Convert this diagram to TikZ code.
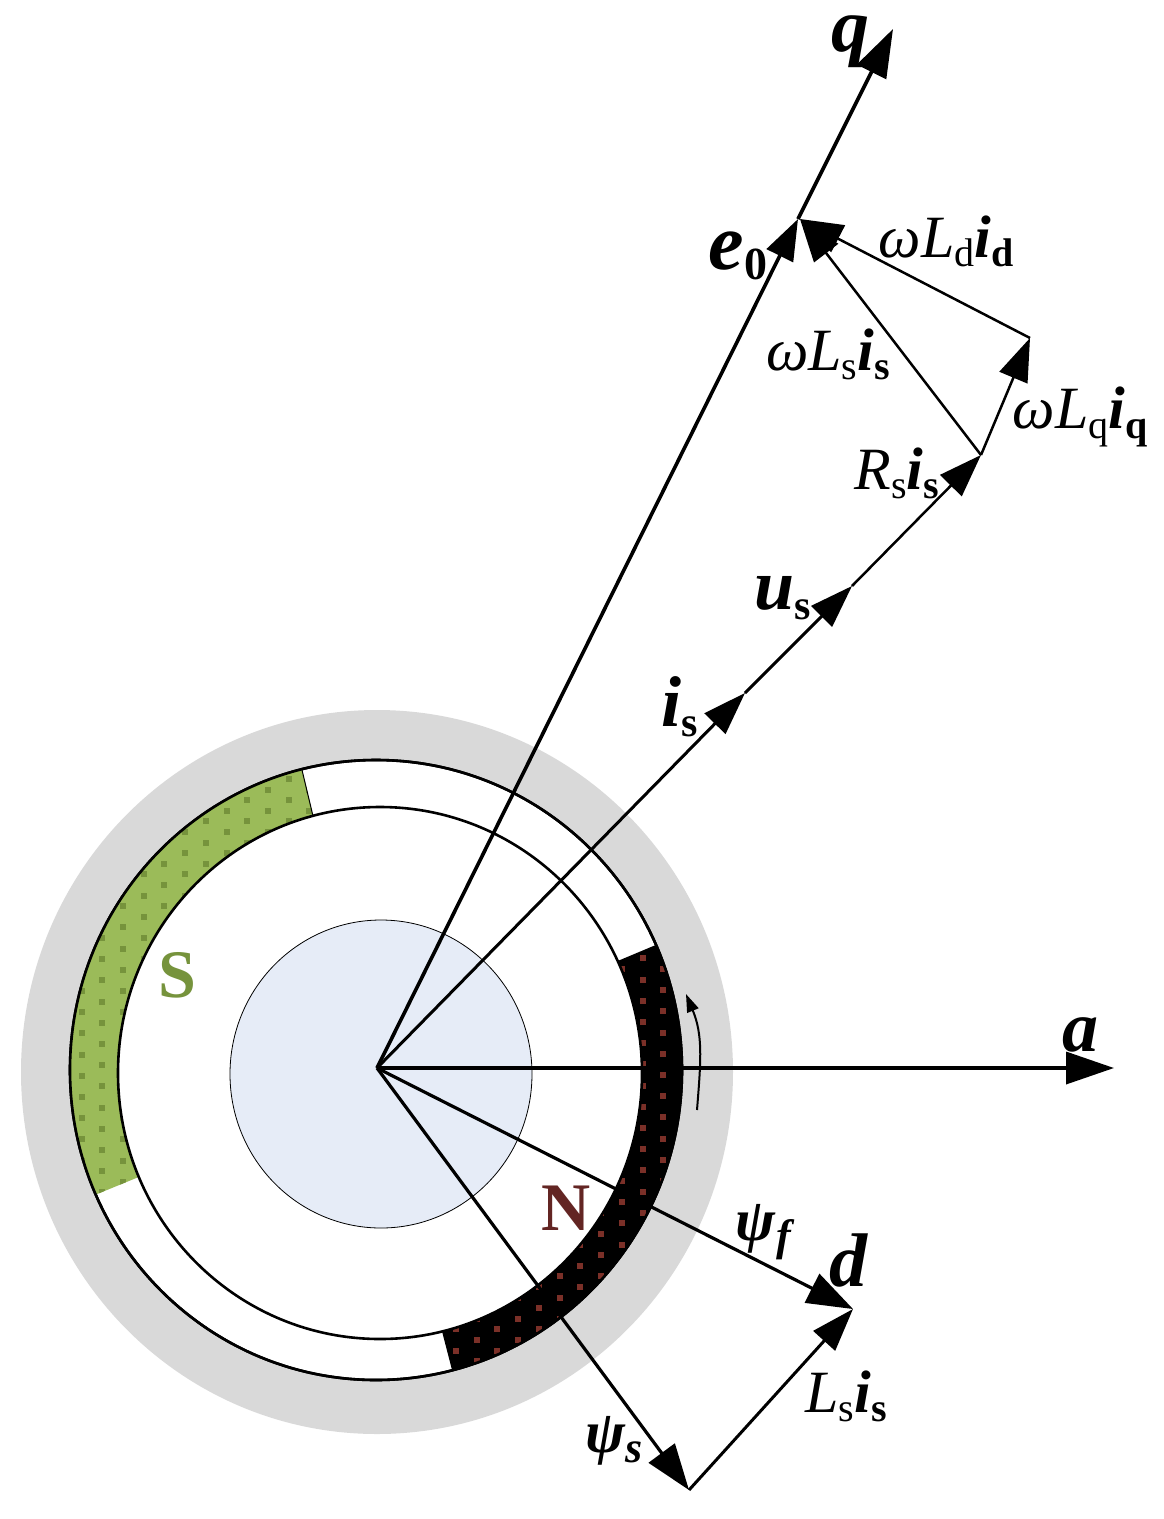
\documentclass[tikz,border=0pt]{standalone}
\usepackage{fontspec}
\setmainfont{Liberation Serif}
\usetikzlibrary{arrows.meta}
\definecolor{statorgray}{HTML}{D9D9D9}
\definecolor{shaftblue}{HTML}{E6ECF7}
\definecolor{sgreen}{HTML}{9BBB59}
\definecolor{sdot}{HTML}{76933C}
\definecolor{ndot}{HTML}{7B3028}
\definecolor{nred}{HTML}{632523}
\newcommand{\fsz}[1]{\fontsize{#1}{#1}\selectfont}
\newcommand{\bi}[1]{\textbf{\textit{#1}}}
\newcommand{\lowsub}[2]{{\fsz{#1}\raisebox{-0.23em}{#2}}}
\newcommand{\magnetpath}[4]{plot[domain=#1:#2,samples=90] ({376+306*cos(\x)},{1070-310*sin(\x)}) -- plot[domain=#4:#3,samples=90] ({380+262*cos(\x)},{1073-266*sin(\x)}) -- cycle}
\tikzset{
  vecbig/.style={line width=3.6pt,-{Triangle[length=48pt,width=32pt]}},
  vecmid/.style={line width=3.2pt,-{Triangle[length=46pt,width=32pt]}},
  vecsmall/.style={line width=3pt,-{Triangle[length=43pt,width=29pt]}},
  vecthin/.style={line width=2.5pt,-{Triangle[length=43pt,width=30pt]}},
  ringline/.style={line width=2.6pt,draw=black},
  vlabel/.style={inner sep=0pt,outer sep=0pt,anchor=center}
}
\begin{document}
\begin{tikzpicture}[x=1pt,y=-1pt]
\useasboundingbox (0,0) rectangle (1164,1519);
% stator and air gap
\fill[statorgray] (377,1072) ellipse [x radius=356,y radius=362];
\filldraw[fill=white,ringline] (376,1070) ellipse [x radius=306,y radius=310];
% S magnet
\begin{scope}
\fill[sgreen] \magnetpath{104}{203.7}{104.8}{203};
\clip \magnetpath{104}{203.7}{104.8}{203};
\foreach \i in {-11,...,11}{
  \pgfmathsetmacro{\off}{mod(abs(\i),2)==1 ? 10.6 : 0}
  \foreach \j in {0,...,22}{
    \fill[sdot] ({288.7+20.72*\i-3},{779+21.2*\j+\off-3}) rectangle +(6,6);
  }
}
\end{scope}
\draw[line width=1pt] (302,770) -- (313,816);
% N magnet
\begin{scope}
\fill[black] \magnetpath{-75.6}{23.8}{-76.3}{24.9};
\clip \magnetpath{-75.6}{23.8}{-76.3}{24.9};
\foreach \i in {-10,...,2}{
  \pgfmathsetmacro{\off}{mod(abs(\i),2)==1 ? 10.6 : 0}
  \foreach \j in {0,...,20}{
    \fill[ndot] ({642.7+20.75*\i-3},{958.3+21.2*\j+\off-3}) rectangle +(6,6);
  }
}
\end{scope}
% outlines
\draw[ringline] (376,1070) ellipse [x radius=306,y radius=310];
\draw[ringline] (380,1073) ellipse [x radius=262,y radius=266];
\filldraw[fill=shaftblue,draw=black,line width=0.8pt] (381,1074) ellipse [x radius=151,y radius=154];
% vector points
\coordinate (O) at (377,1068);
\coordinate (E) at (798,219);
\coordinate (Q) at (893,29);
\coordinate (A) at (1114,1068);
\coordinate (D) at (853,1309);
\coordinate (PS) at (689,1490);
\coordinate (IS) at (745,693);
\coordinate (US) at (852,586);
\coordinate (RS) at (981,455);
\coordinate (LQ) at (1030,338);
\coordinate (LD) at (800,219);
\coordinate (R1) at (697,1110);
\coordinate (R2) at (686,994);
% vectors
\draw[vecbig] (O) -- (A);
\draw[line width=3.6pt,-{Triangle[length=41pt,width=29pt]}] (O) -- (E);
\draw[vecbig] (E) -- (Q);
\draw[vecmid] (O) -- (D);
\draw[vecmid] (O) -- (PS);
\draw[vecsmall] (O) -- (IS);
\draw[vecsmall] (IS) -- (US);
\draw[vecthin] (US) -- (RS);
\draw[vecthin] (RS) -- (LQ);
\draw[vecthin] (LQ) -- (LD);
\draw[vecthin] (RS) -- (LD);
\draw[vecsmall] (PS) -- (D);
\draw[line width=2pt,-{Triangle[length=18pt,width=12pt]}] (R1) .. controls (701,1060) and (703,1035) .. (R2);
% labels
\node[vlabel] (lq) at (850,42) {\fsz{76}\bi{q}};
\node[vlabel] (la) at (1080,1035) {\fsz{72}\bi{a}};
\node[vlabel] (ld) at (849,1260) {\fsz{76}\bi{d}};
\node[vlabel] (le) at (738,256) {\fsz{80}\bi{e}\lowsub{46}{\textbf{0}}};
\node[vlabel] (lis) at (680,707) {\fsz{72}\bi{i}\lowsub{42}{\textbf{s}}};
\node[vlabel] (lus) at (783,598) {\fsz{72}\bi{u}\lowsub{42}{\textbf{s}}};
\node[vlabel] (lrs) at (897,473) {\fsz{60}\textit{R}\lowsub{40}{s}\bi{i}\lowsub{40}{\textbf{s}}};
\node[vlabel] (lwq) at (1080,417) {\fsz{60}\textit{ωL}\lowsub{40}{q}\bi{i}\lowsub{40}{\textbf{q}}};
\node[vlabel] (lwd) at (946,241) {\fsz{60}\textit{ωL}\lowsub{40}{d}\bi{i}\lowsub{40}{\textbf{d}}};
\node[vlabel] (lws) at (828,354) {\fsz{60}\textit{ωL}\lowsub{40}{s}\bi{i}\lowsub{40}{\textbf{s}}};
\node[vlabel] (lls) at (846,1396) {\fsz{60}\textit{L}\lowsub{40}{s}\bi{i}\lowsub{40}{\textbf{s}}};
\node[vlabel] (lpf) at (765,1232) {\fsz{60}\bi{ψ}\lowsub{44}{\bi{f}}};
\node[vlabel] (lps) at (614,1441) {\fsz{60}\bi{ψ}\lowsub{44}{\bi{s}}};
\node[vlabel,text=sdot] (ls) at (177,975) {\fsz{68}\textbf{S}};
\node[vlabel,text=nred] (ln) at (566,1208) {\fsz{68}\textbf{N}};
\end{tikzpicture}
\end{document}
